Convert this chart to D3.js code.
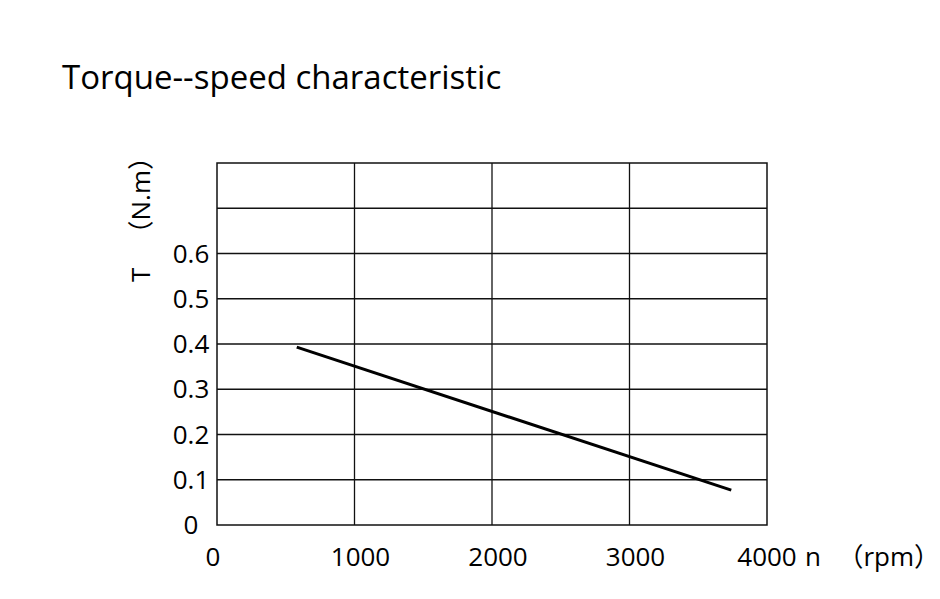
<!DOCTYPE html>
<html>
<head>
<meta charset="utf-8">
<script src="https://cdn.jsdelivr.net/npm/d3@7"></script>
<style>
  body { margin: 0; background: #fff; }
  text { font-family: "Open Sans", "Noto Sans CJK SC", sans-serif; fill: #000; }
</style>
</head>
<body>
<svg id="view" width="940" height="599"></svg>
<script>
// torque vs speed, two end points
const speed = [580, 3740];
const torque = [0.393, 0.077];
const xTicks = [0, 1000, 2000, 3000, 4000];
const yTicks = [0, 0.1, 0.2, 0.3, 0.4, 0.5, 0.6];
const yGrid = [0.1, 0.2, 0.3, 0.4, 0.5, 0.6, 0.7];

const margin = {top: 163, right: 173, bottom: 74, left: 217};
const width = 940 - margin.left - margin.right;
const height = 599 - margin.top - margin.bottom;

const svg = d3.select('#view');
const g = svg.append('g')
    .attr('transform', `translate(${margin.left},${margin.top})`);

const x = d3.scaleLinear().domain([0, 4000]).range([0, width]);
const y = d3.scaleLinear().domain([0, 0.8]).range([height, 0]);

// grid
g.selectAll('.hgrid')
    .data(yGrid)
    .enter().append('line')
    .attr('x1', 0).attr('x2', width)
    .attr('y1', d => y(d)).attr('y2', d => y(d))
    .attr('stroke', '#111').attr('stroke-width', 1.3);

g.selectAll('.vgrid')
    .data(xTicks.slice(1, -1))
    .enter().append('line')
    .attr('x1', d => x(d)).attr('x2', d => x(d))
    .attr('y1', 0).attr('y2', height)
    .attr('stroke', '#111').attr('stroke-width', 1.3);

g.append('rect')
    .attr('width', width).attr('height', height)
    .attr('fill', 'none').attr('stroke', '#111').attr('stroke-width', 1.5);

// tick labels
g.selectAll('.ylab')
    .data(yTicks)
    .enter().append('text')
    .attr('x', -26)
    .attr('y', d => y(d) + 9)
    .attr('text-anchor', 'middle')
    .style('font-size', '26px')
    .text(d => d === 0 ? '0' : d.toFixed(1));

g.selectAll('.xlab')
    .data(xTicks)
    .enter().append('text')
    .attr('x', d => x(d) + (d === 0 ? -4 : d === 4000 ? 0 : 6))
    .attr('y', height + 41)
    .attr('text-anchor', 'middle')
    .style('font-size', '26px')
    .text(d => d);

// x unit
g.append('text')
    .attr('x', x(4000) + 38)
    .attr('y', height + 41)
    .style('font-size', '26px')
    .text('n');
g.append('text')
    .attr('x', x(4000) + 173)
    .attr('y', height + 41)
    .attr('text-anchor', 'end')
    .style('font-size', '26px')
    .text('（rpm）');

// y unit, rotated
const yl = g.append('g')
    .attr('transform', `translate(-67,${height - 243}) rotate(-90)`);
yl.append('text')
    .attr('x', 0)
    .style('font-size', '26px')
    .text('T');
yl.append('text')
    .attr('x', 138)
    .attr('text-anchor', 'end')
    .style('font-size', '26px')
    .text('（N.m）');

// curve
const line = d3.line().x(d => x(d[0])).y(d => y(d[1]));
g.append('path')
    .datum(d3.zip(speed, torque))
    .attr('d', line)
    .attr('fill', 'none')
    .attr('stroke', '#000')
    .attr('stroke-width', 3);

svg.append('text')
    .attr('x', 62).attr('y', 89)
    .style('font-size', '33px')
    .text('Torque--speed characteristic');
</script>
</body>
</html>
